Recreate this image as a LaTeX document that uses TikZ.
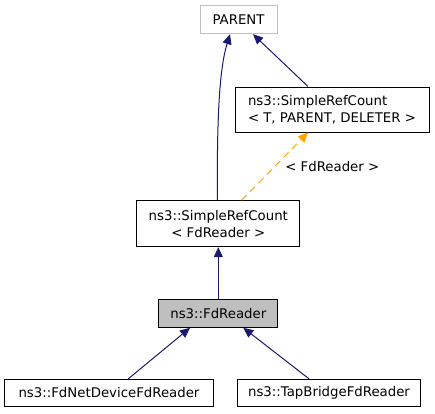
\documentclass[tikz,border=0pt]{standalone}
\usepackage{fontspec}
\setmainfont{DejaVu Sans}
\usetikzlibrary{arrows.meta}
\definecolor{edgeblue}{HTML}{191970}
\definecolor{tmplorange}{HTML}{FFA500}
\definecolor{boxgray}{HTML}{BFBFBF}
\begin{document}
\begin{tikzpicture}[x=1pt,y=-1pt,
    font=\fontsize{13.3}{17}\selectfont,
    cls/.style={draw=black,fill=white,inner sep=0pt,align=center,line width=1pt},
    inh/.style={draw=edgeblue,line width=1pt,-{Triangle[length=10pt,width=9pt,fill=edgeblue]}},
    tmpl/.style={draw=tmplorange,line width=1pt,dash pattern=on 7pt off 5pt,-{Triangle[length=10pt,width=9pt,fill=tmplorange]}}]
  \useasboundingbox (0,0) rectangle (435,413);
  \draw
    (238.5,19.7) node[cls,draw=boxgray,minimum width=77,minimum height=28] (parent){PARENT}
    (332,109.5) node[cls,align=left,minimum width=194,minimum height=45] (srct){ns3::SimpleRefCount\\\textless{} T, PARENT, DELETER \textgreater}
    (218.3,223.7) node[cls,minimum width=163,minimum height=46] (srcf){ns3::SimpleRefCount\\\textless{} FdReader \textgreater}
    (218.3,313.3) node[cls,fill=boxgray,minimum width=119,minimum height=28] (fdreader){ns3::FdReader}
    (109,393) node[cls,minimum width=209,minimum height=27.4] (fdnet){ns3::FdNetDeviceFdReader}
    (329,393) node[cls,minimum width=183.4,minimum height=27.4] (tap){ns3::TapBridgeFdReader};
  \begin{scope}
    \draw[inh] ([xshift=-1pt]srcf.north) .. controls (217,120) and (219,70) .. ([xshift=-8.5pt]parent.south);
    \draw[inh] ([xshift=-24pt]srct.north) -- ([xshift=14.5pt]parent.south);
    \draw[tmpl] ([xshift=23.4pt]srcf.north) -- ([xshift=-24pt]srct.south)
      node[midway,anchor=west,inner sep=0pt,xshift=10pt,text=black] (tmplarg){\textless{} FdReader \textgreater};
    \draw[inh] (fdreader) -- (srcf);
    \draw[inh] ([xshift=19.3pt]fdnet.north) -- ([xshift=-28.3pt]fdreader.south);
    \draw[inh] ([xshift=-20pt]tap.north) -- ([xshift=25pt]fdreader.south);
  \end{scope}
\end{tikzpicture}
\end{document}
